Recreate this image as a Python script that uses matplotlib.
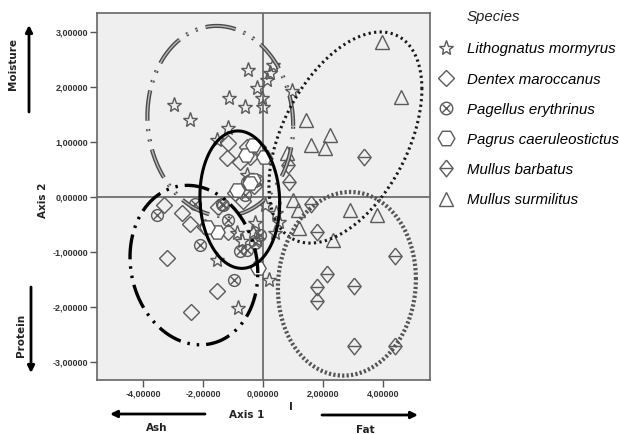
import numpy as np
import matplotlib
matplotlib.use('Agg')
import matplotlib.pyplot as plt
from matplotlib.lines import Line2D
from matplotlib.ticker import FuncFormatter

plt.rcParams['lines.scale_dashes'] = False

# scores on the two discriminant axes
LITHO_X = [-0.49, 0.32, 0.12, 0.22, -0.21, 0.96, -1.12, -0.60, -2.95, -2.43, -0.04, 0.01,
           -1.16, -1.54, -0.54, -1.54, -0.82, 0.20, -0.88, -0.32, 0.40, 0.45, -0.27, 0.07,
           0.55, -0.71, -0.21]
LITHO_Y = [2.31, 2.40, 2.13, 2.25, 1.98, 1.92, 1.79, 1.64, 1.67, 1.40, 1.79, 1.64,
           1.25, 1.04, 0.40, -1.15, -2.02, -1.51, -0.66, -0.63, -0.66, -0.30, -0.48, -0.15,
           -0.45, -0.81, -0.78]

DENTEX_X = [-3.30, -2.71, -2.43, -3.21, -1.54, -2.40, -1.93, -1.16, -1.21, -0.54, -0.77,
            -0.16, -0.93, -0.66, -0.43, -1.16, -1.49, -0.30]
DENTEX_Y = [-0.15, -0.30, -0.49, -1.12, -1.72, -2.09, -0.54, 0.98, 0.70, 0.91, 0.64,
            0.91, 0.07, -0.08, 0.73, -0.63, -0.18, 0.20]

PAGELLUS_X = [-3.54, -2.27, -2.10, -1.33, -1.16, -0.54, -0.21, -0.60, -0.43, -0.77, -0.97,
              -0.54, -0.27, -0.10, -1.38]
PAGELLUS_Y = [-0.33, -0.12, -0.87, -0.15, -0.42, 0.28, 0.31, 0.04, 0.31, -0.99, -1.51,
              -0.96, -0.84, -0.69, -0.12]

PAGRUS_X = [-1.54, -0.55, 0.05, -0.32, -0.32, -0.16, -1.88, -0.88, -0.43]
PAGRUS_Y = [-0.63, 0.76, 0.72, 0.95, 0.31, -1.30, -0.54, 0.13, 0.25]

BARBATUS_X = [3.38, 0.84, 0.88, 1.62, 1.79, 4.40, 2.14, 1.79, 3.04, 1.82, 3.04, 4.40]
BARBATUS_Y = [0.73, 0.58, 0.28, -0.12, -0.63, -1.08, -1.40, -1.63, -1.62, -1.90, -2.71, -2.71]

SURMU_X = [3.96, 4.62, 1.43, 1.59, 2.23, 2.07, 0.79, 1.00, 2.90, 3.79, 1.18, 1.21, 2.34]
SURMU_Y = [2.82, 1.82, 1.40, 0.95, 1.13, 0.89, 0.80, -0.05, -0.24, -0.33, -0.24, -0.57, -0.78]

# group ellipses: centre x, centre y, half extent x, half extent y, correlation
ELL_LITHO = (-1.42, 1.38, 2.43, 1.73, -0.05)
ELL_DENTEX = (-2.30, -1.24, 2.13, 1.45, -0.10)
ELL_PAGELLUS = (-0.77, -0.05, 1.33, 1.25, -0.05)
ELL_SURMU = (2.75, 1.08, 2.55, 1.92, 0.46)
ELL_BARBATUS = (2.80, -1.58, 2.30, 1.67, 0.05)

X_TICKS = [-4, -2, 0, 2, 4]
Y_TICKS = [-3, -2, -1, 0, 1, 2, 3]

SPECIES = ['Lithognatus mormyrus', 'Dentex maroccanus', 'Pagellus erythrinus',
           'Pagrus caeruleostictus', 'Mullus barbatus', 'Mullus surmilitus']

EDGE = '#5a5a5a'
# slightly squat diamond for Mullus barbatus
BARB_MARK = [(0, 1), (0.8, 0), (0, -1), (-0.8, 0), (0, 1)]


def ellipse_xy(params, n=400):
    cx, cy, hx, hy, rho = params
    t = np.linspace(0, 2 * np.pi, n)
    x = cx + hx * np.cos(t)
    y = cy + hy * (rho * np.cos(t) + np.sqrt(1 - rho ** 2) * np.sin(t))
    return x, y


def comma_fmt(v, pos):
    return f'{v:.5f}'.replace('.', ',')


fig = plt.figure(figsize=(6.19, 4.34), dpi=100)
ax = fig.add_axes([97 / 619, 54 / 434, 333 / 619, 367 / 434])
ax.set_facecolor('#efefef')
ax.set_xlim(-5.53, 5.57)
ax.set_ylim(-3.33, 3.345)

ax.axvline(0, color='#6e6e6e', lw=1.3, zorder=1)
ax.axhline(0, color='#6e6e6e', lw=1.3, zorder=1)

mk = dict(linestyle='none', markeredgecolor=EDGE, markeredgewidth=1.0, zorder=3)
ax.plot(LITHO_X, LITHO_Y, marker='*', ms=11, markerfacecolor='none', **mk)
ax.plot(DENTEX_X, DENTEX_Y, marker='D', ms=8.5, markerfacecolor='none', **mk)
ax.plot(PAGELLUS_X, PAGELLUS_Y, marker='o', ms=8.5, markerfacecolor='none', **mk)
ax.plot(PAGELLUS_X, PAGELLUS_Y, marker='x', ms=5.8, **mk)
ax.plot(PAGRUS_X, PAGRUS_Y, marker='H', ms=11, markerfacecolor='white', **mk)
ax.plot(BARBATUS_X, BARBATUS_Y, marker=BARB_MARK, ms=12, markerfacecolor='none', **mk)
ax.plot(BARBATUS_X, BARBATUS_Y, marker='_', ms=9, **mk)
ax.plot(SURMU_X, SURMU_Y, marker='^', ms=10, markerfacecolor='none', **mk)

# ellipses
x, y = ellipse_xy(ELL_LITHO)
ax.plot(x, y, color='#4a4a4a', lw=3.0, dashes=(22, 6, 1.5, 6, 1.5, 6), zorder=4)
ax.plot(x, y, color='#b8b8b8', lw=1.0, dashes=(22, 6, 1.5, 6, 1.5, 6), zorder=4)
x, y = ellipse_xy(ELL_DENTEX)
ax.plot(x, y, color='black', lw=2.4, dashes=(18, 5, 1.8, 5, 1.8, 5), zorder=4)
x, y = ellipse_xy(ELL_PAGELLUS)
ax.plot(x, y, color='black', lw=2.2, zorder=4)
x, y = ellipse_xy(ELL_SURMU)
ax.plot(x, y, color='#1a1a1a', lw=2.2, dashes=(1.6, 2.4), zorder=4)
x, y = ellipse_xy(ELL_BARBATUS)
ax.plot(x, y, color='#555555', lw=3.0, dashes=(1.6, 1.6), zorder=4)

ax.set_xticks(X_TICKS)
ax.set_yticks(Y_TICKS)
ax.xaxis.set_major_formatter(FuncFormatter(comma_fmt))
ax.yaxis.set_major_formatter(FuncFormatter(comma_fmt))
ax.tick_params(length=5, width=1, color='#555555', labelsize=6.5, labelcolor='#333333', pad=1.5)
for lab in ax.get_xticklabels() + ax.get_yticklabels():
    lab.set_family('Liberation Sans')
    lab.set_fontweight('bold')
for s in ax.spines.values():
    s.set_color('#666666')
    s.set_linewidth(1.2)

# axis titles and variable arrows
H = 434
lab = dict(fontsize=7.5, fontweight='bold', color='#222222', ha='center', va='center')
fig.text(247 / 619, 19 / H, 'Axis 1', **lab)
fig.text(43 / 619, 234 / H, 'Axis 2', rotation=90, **lab)
fig.text(291 / 619, 27 / H, 'I', **lab)
fig.text(13 / 619, 370 / H, 'Moisture', rotation=90, **lab)
fig.text(21 / 619, 99 / H, 'Protein', rotation=90, **lab)
fig.text(157 / 619, 6 / H, 'Ash', **lab)
fig.text(365 / 619, 4 / H, 'Fat', **lab)

arr = dict(arrowstyle='-|>', lw=2.0, color='black', mutation_scale=10, shrinkA=0, shrinkB=0)
for start, end in [((29, 322), (29, 409)), ((31, 147), (31, 61)),
                   ((205, 20), (110, 20)), ((322, 19), (418, 19))]:
    ax.annotate('', xy=end, xytext=start, xycoords='figure pixels',
                textcoords='figure pixels', arrowprops=arr, annotation_clip=False)

# legend
fig.text(467 / 619, 417 / H, 'Species', fontsize=10.8, style='italic',
         family='Liberation Sans', color='#222222', va='center')
hs = dict(linestyle='none', markeredgecolor=EDGE, markeredgewidth=1.0)
handles = [
    Line2D([], [], marker='*', ms=11, markerfacecolor='none', **hs),
    Line2D([], [], marker='D', ms=8.5, markerfacecolor='none', **hs),
    (Line2D([], [], marker='o', ms=9, markerfacecolor='none', **hs),
     Line2D([], [], marker='x', ms=6, **hs)),
    Line2D([], [], marker='H', ms=12, markerfacecolor='white', **hs),
    (Line2D([], [], marker=BARB_MARK, ms=12, markerfacecolor='none', **hs),
     Line2D([], [], marker='_', ms=9, **hs)),
    Line2D([], [], marker='^', ms=10, markerfacecolor='none', **hs),
]
fig.legend(handles, SPECIES, loc='upper left', bbox_to_anchor=(438.5 / 619, 391.5 / H),
           frameon=False, handlelength=1.0, handletextpad=0.9, labelspacing=1.07,
           borderpad=0, borderaxespad=0,
           prop=dict(family='Liberation Sans', style='italic', size=10.8))

fig.savefig('out.png', dpi=100)
